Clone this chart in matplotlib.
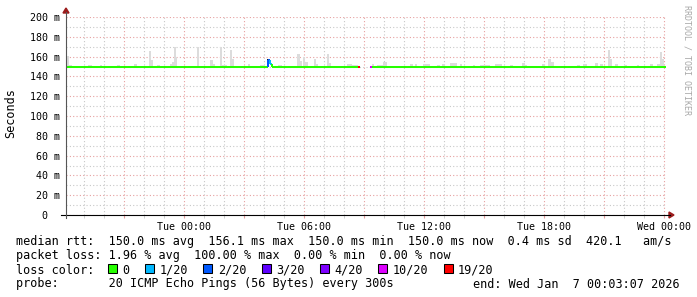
import matplotlib
matplotlib.use("Agg")
import matplotlib.pyplot as plt
from matplotlib.lines import Line2D
from matplotlib.patches import Rectangle, Polygon
import numpy as np

# --- data (time in hours relative to Tue 00:00) ---
t_end = 24 + 3 / 60 + 7 / 3600          # Wed Jan 7 00:03:07
t_start = t_end - 30

x_ticks = [0, 6, 12, 18, 24]
x_tick_labels = ["Tue 00:00", "Tue 06:00", "Tue 12:00", "Tue 18:00", "Wed 00:00"]
y_ticks = [0, 20, 40, 60, 80, 100, 120, 140, 160, 180, 200]
y_tick_labels = ["0  ", "20 m", "40 m", "60 m", "80 m", "100 m", "120 m",
                 "140 m", "160 m", "180 m", "200 m"]

base_rtt = 150.0
# smoke bars: start hour, width hour, top value (ms)
smoke_t = [-5.85, -5.75, -5.45, -4.8, -4.2, -3.7, -3.35, -2.5, -2.0, -1.75,
           -1.7, -1.35, -0.7, -0.6, -0.5, -0.45, 0.05, 0.65, 1.3, 1.45,
           1.8, 1.9, 2.3, 2.4, 3.2, 3.3, 3.8, 4.7, 5.65, 5.8,
           5.95, 6.05, 6.5, 6.6, 7.15, 7.25, 7.55, 8.15, 8.4, 9.4,
           9.65, 9.95, 11.3, 11.55, 11.95, 12.65, 12.9, 13.3, 13.8, 14.45,
           14.8, 15.55, 16.3, 16.9, 17.05, 17.9, 18.2, 18.35, 19.65, 19.95,
           20.55, 20.8, 21.2, 21.3, 21.55, 22.05, 22.65, 23.3, 23.65, 23.8,
           23.9]
smoke_w = [0.1, 0.15, 0.1, 0.2, 0.1, 0.1, 0.15, 0.15, 0.25, 0.06,
           0.15, 0.15, 0.15, 0.1, 0.07, 0.1, 0.15, 0.1, 0.15, 0.1,
           0.1, 0.25, 0.1, 0.1, 0.1, 0.25, 0.25, 0.2, 0.15, 0.07,
           0.1, 0.15, 0.1, 0.1, 0.1, 0.1, 0.06, 0.25, 0.3, 0.1,
           0.3, 0.2, 0.15, 0.1, 0.35, 0.15, 0.15, 0.35, 0.1, 0.06,
           0.5, 0.35, 0.15, 0.15, 0.1, 0.15, 0.15, 0.15, 0.15, 0.2,
           0.15, 0.15, 0.1, 0.1, 0.15, 0.1, 0.06, 0.15, 0.15, 0.1,
           0.1]
smoke_top = [161, 152, 151, 152, 152, 151, 152, 153, 151, 165.5,
             157, 152, 153, 155, 170, 160, 151, 170, 156.5, 153,
             170, 152, 166.7, 157.5, 153, 151, 152, 152, 162.6, 156,
             160, 154.5, 157.5, 153, 162.6, 154, 151, 152.5, 151.5, 153,
             152, 155, 153, 152.5, 153, 151.5, 153, 153.5, 153, 152,
             152, 152.5, 151.5, 154, 152, 153, 157.5, 155, 152, 153,
             153.5, 153, 166.5, 158, 153, 152, 152, 153, 152.5, 165,
             158]
dark_smoke_t = [4.15]
dark_smoke_w = [0.1]
dark_smoke_top = [157.5]

# median rtt segments with their packet loss
seg_start = [t_start, 4.2, 4.3, 4.4, 8.70, 9.26, 9.4]
seg_end = [4.2, 4.3, 4.4, 8.70, 8.79, 9.4, t_end]
seg_median = [150.0, 156.1, 153.0, 150.0, 150.0, 150.0, 150.0]
seg_loss = ["0", "2/20", "1/20", "0", "19/20", "10/20", "0"]

loss_labels = ["0", "1/20", "2/20", "3/20", "4/20", "10/20", "19/20"]
loss_colors = ["#26ff00", "#00b8ff", "#0059ff", "#5e00ff", "#7e00ff", "#dd00ff", "#ff0000"]
loss_color_of = dict(zip(loss_labels, loss_colors))

# --- figure ---
W, H = 697, 297
MONO = "DejaVu Sans Mono"
plt.rcParams["font.family"] = MONO

fig = plt.figure(figsize=(W / 100, H / 100), dpi=100)
fig.patch.set_facecolor("white")


def fx(x):
    return x / W


def fy(y):
    return 1 - y / H


ax_l, ax_r, ax_t, ax_b = 65.5, 665.5, 17, 215
ax = fig.add_axes([fx(ax_l), fy(ax_b), (ax_r - ax_l) / W, (ax_b - ax_t) / H])
ax.set_xlim(t_start, t_end)
ax.set_ylim(0, 200)
for s in ax.spines.values():
    s.set_visible(False)

# grid: red every 3 h / 20 ms, grey every 1 h / 10 ms
major_x = np.arange(-3, 25, 3)
ax.set_xticks(major_x)
ax.set_xticklabels([x_tick_labels[x_ticks.index(v)] if v in x_ticks else "" for v in major_x])
ax.set_xticks(np.arange(-5, 25, 1), minor=True)
ax.set_yticks(y_ticks)
ax.set_yticklabels(y_tick_labels)
ax.set_yticks(np.arange(10, 200, 20), minor=True)

dots = (0, (1, 2))
ax.grid(which="major", color="#e6a0a0", linestyle=dots, linewidth=0.8)
ax.grid(which="minor", color="#c8c8c8", linestyle=dots, linewidth=0.8)
ax.set_axisbelow(True)
ax.tick_params(axis="x", which="major", length=2.2, color="#e6a0a0", pad=3,
               labelsize=7.2, labelcolor="black")
ax.tick_params(axis="x", which="minor", length=2.2, color="#c8c8c8")
ax.tick_params(axis="y", which="both", length=0, pad=4.2, labelsize=7.2)

# smoke
ax.bar(smoke_t, np.array(smoke_top) - base_rtt, width=smoke_w, bottom=base_rtt,
       align="edge", color="#dcdcdc", linewidth=0, zorder=2)
ax.bar(dark_smoke_t, np.array(dark_smoke_top) - base_rtt, width=dark_smoke_w,
       bottom=base_rtt, align="edge", color="#202020", linewidth=0, zorder=2)

# median line coloured by loss
lw = 1.45
prev_end, prev_val = None, None
for s, e, v, loss in zip(seg_start, seg_end, seg_median, seg_loss):
    c = loss_color_of[loss]
    ax.hlines(v, s, e, colors=c, linewidth=lw, zorder=3)
    if prev_end is not None and abs(prev_end - s) < 1e-9 and prev_val != v:
        ax.vlines(s, min(prev_val, v), max(prev_val, v), colors=c, linewidth=lw, zorder=3)
    prev_end, prev_val = e, v

# axes lines and arrows
arrow_c = "#9b1b1b"
fig.add_artist(Line2D([fx(61), fx(670)], [fy(ax_b), fy(ax_b)], color="black", lw=0.8))
fig.add_artist(Line2D([fx(66), fx(66)], [fy(218), fy(12)], color="#555555", lw=0.8))
fig.add_artist(Polygon([[fx(669), fy(212)], [fx(669), fy(218)], [fx(674), fy(215)]],
                       closed=True, color=arrow_c))
fig.add_artist(Polygon([[fx(63), fy(13)], [fx(69), fy(13)], [fx(66), fy(8)]],
                       closed=True, color=arrow_c))

# labels
fig.text(fx(11), fy(113), "Seconds", rotation=90, ha="center", va="center",
         fontsize=8.5, family=MONO)
fig.text(fx(687), fy(60), "RRDTOOL / TOBI OETIKER", rotation=-90, ha="center",
         va="center", fontsize=6, color="#a8a8a8", family=MONO)

fs = 8.45
fig.text(fx(16), fy(245.5),
         "median rtt:  150.0 ms avg  156.1 ms max  150.0 ms min  150.0 ms now  0.4 ms sd  420.1   am/s",
         fontsize=fs, va="baseline", family=MONO)
fig.text(fx(16), fy(259.5),
         "packet loss: 1.96 % avg  100.00 % max  0.00 % min  0.00 % now",
         fontsize=fs, va="baseline", family=MONO)
fig.text(fx(16), fy(273.5), "loss color:", fontsize=fs, va="baseline", family=MONO)
cw = 7.07
x = 108.0
for lbl, col in zip(loss_labels, loss_colors):
    fig.add_artist(Rectangle((fx(x), fy(273)), 9 / W, 9 / H, facecolor=col,
                             edgecolor="black", linewidth=0.75))
    tx = x + 14.5
    fig.text(fx(tx), fy(273.5), lbl, fontsize=fs, va="baseline", family=MONO)
    x = tx + len(lbl) * cw + 15.5
fig.text(fx(16), fy(287.5),
         "probe:       20 ICMP Echo Pings (56 Bytes) every 300s",
         fontsize=fs, va="baseline", family=MONO)
fig.text(fx(680), fy(287.5), "end: Wed Jan  7 00:03:07 2026",
         fontsize=fs, va="baseline", ha="right", family=MONO)

fig.savefig("out.png", dpi=100)
